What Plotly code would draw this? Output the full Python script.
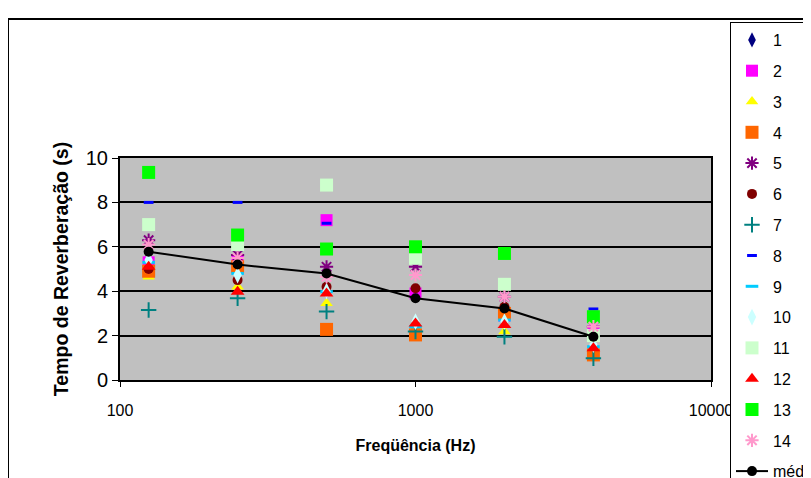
import plotly.graph_objects as go

freqs = [125, 250, 500, 1000, 2000, 4000]

s1 = [5.3, 4.6, 4.0, 2.4, 2.7, 1.6]
s2 = [5.3, 5.33, 7.2, 3.9, 2.9, 2.18]
s3 = [4.65, 4.2, 3.46, 2.4, 2.18, 1.3]
s4 = [4.9, 5.1, 2.28, 2.03, 3.0, 1.13]
s5 = [6.3, 5.63, 5.1, 5.1, 3.75, 2.4]
s6 = [5.0, 4.5, 4.2, 4.13, 3.3, 1.9]
s7 = [3.15, 3.68, 3.08, 2.18, 1.95, 0.98]
s8 = [8.0, 8.0, 7.06, 2.4, 4.35, 3.2]
s9 = [5.3, 4.8, 3.98, 2.4, 2.7, 1.5]
s10 = [5.4, 4.73, 4.0, 2.63, 2.63, 1.6]
s11 = [7.0, 6.1, 8.78, 5.48, 4.31, 2.0]
s12 = [5.1, 3.98, 3.9, 2.55, 2.48, 1.43]
s13 = [9.35, 6.53, 5.9, 6.0, 5.7, 2.85]
s14 = [6.1, 5.5, 4.65, 4.73, 3.75, 2.4]
media = [5.78, 5.2, 4.8, 3.68, 3.22, 1.95]

names = ["1", "2", "3", "4", "5", "6", "7", "8", "9", "10", "11", "12", "13", "14"]
values = [s1, s2, s3, s4, s5, s6, s7, s8, s9, s10, s11, s12, s13, s14]

styles = [
    dict(symbol="diamond-tall", color="#000080", size=11),
    dict(symbol="square", color="#FF00FF", size=12),
    dict(symbol="triangle-up", color="#FFFF00", size=11),
    dict(symbol="square", color="#FF6600", size=13),
    dict(symbol="asterisk-open", color="#800080", size=11, line=dict(color="#800080", width=2)),
    dict(symbol="circle", color="#800000", size=10),
    dict(symbol="cross-thin-open", color="#008080", size=11, line=dict(color="#008080", width=2)),
    dict(symbol="line-ew-open", color="#0000FF", size=7, line=dict(color="#0000FF", width=3)),
    dict(symbol="line-ew-open", color="#00CCFF", size=9, line=dict(color="#00CCFF", width=3)),
    dict(symbol="diamond-tall", color="#CCFFFF", size=12),
    dict(symbol="square", color="#CCFFCC", size=13),
    dict(symbol="triangle-up", color="#FF0000", size=12),
    dict(symbol="square", color="#00FF00", size=13),
    dict(symbol="asterisk-open", color="#FF99CC", size=11, line=dict(color="#FF99CC", width=2)),
]

fig = go.Figure()
for nm, vals, st in zip(names, values, styles):
    fig.add_trace(go.Scatter(
        x=freqs, y=vals, name=nm, mode="markers", marker=st,
        legendgroup="g" + nm,
    ))

fig.add_trace(go.Scatter(
    x=freqs, y=media, name="média", mode="lines+markers",
    line=dict(color="black", width=2),
    marker=dict(symbol="circle", color="black", size=10),
    legendgroup="gm",
))

W, H = 811, 478
OFF = 8  # page body margin offset
# plot area in screen pixels
PX0, PX1 = 120, 711
PY0, PY1 = 158, 380   # top, bottom


def fx(p):
    return (p - OFF) / W


def fy(p):
    return (H - (p - OFF)) / H


fig.add_shape(type="rect", xref="paper", yref="paper",
              x0=fx(8), x1=fx(W + 20), y0=fy(19), y1=fy(H + 20),
              line=dict(color="black", width=2), fillcolor="rgba(0,0,0,0)", layer="below")

fig.update_layout(
    width=W, height=H,
    margin=dict(l=0, r=0, t=0, b=0, autoexpand=False),
    paper_bgcolor="white",
    plot_bgcolor="#C0C0C0",
    font=dict(family="Liberation Sans, Arial, sans-serif", color="black"),
    showlegend=True,
    legend=dict(
        x=fx(730), y=fy(22), xanchor="left", yanchor="top",
        bgcolor="white", bordercolor="black", borderwidth=1,
        font=dict(size=16, family="Liberation Sans, Arial, sans-serif"),
        tracegroupgap=7,
        itemwidth=32,
    ),
    xaxis=dict(
        type="log", range=[2, 4],
        domain=[fx(PX0), fx(PX1)],
        tickvals=[100, 1000, 10000], ticktext=["100", "1000", "10000"],
        ticks="outside", ticklen=5, tickwidth=1, tickcolor="black",
        showgrid=False, zeroline=False,
        showline=True, linecolor="black", linewidth=2, mirror=True,
        tickfont=dict(size=16, family="Liberation Sans Narrow, Arial Narrow, Liberation Sans"),
        ticklabelstandoff=10,
        title=dict(text="<b>Freqüência (Hz)</b>", standoff=22,
                   font=dict(size=16, family="Liberation Sans Narrow, Arial Narrow, Liberation Sans")),
    ),
    yaxis=dict(
        range=[0, 10], dtick=2,
        domain=[fy(PY1), fy(PY0)],
        ticks="outside", ticklen=6, tickwidth=1, tickcolor="black",
        showgrid=True, gridcolor="black", gridwidth=2,
        zeroline=False,
        showline=True, linecolor="black", linewidth=2, mirror=True,
        tickfont=dict(size=20),
        title=dict(text="<b>Tempo de Reverberação (s)</b>", standoff=12, font=dict(size=19.5)),
    ),
)

fig.write_html("out.html")
